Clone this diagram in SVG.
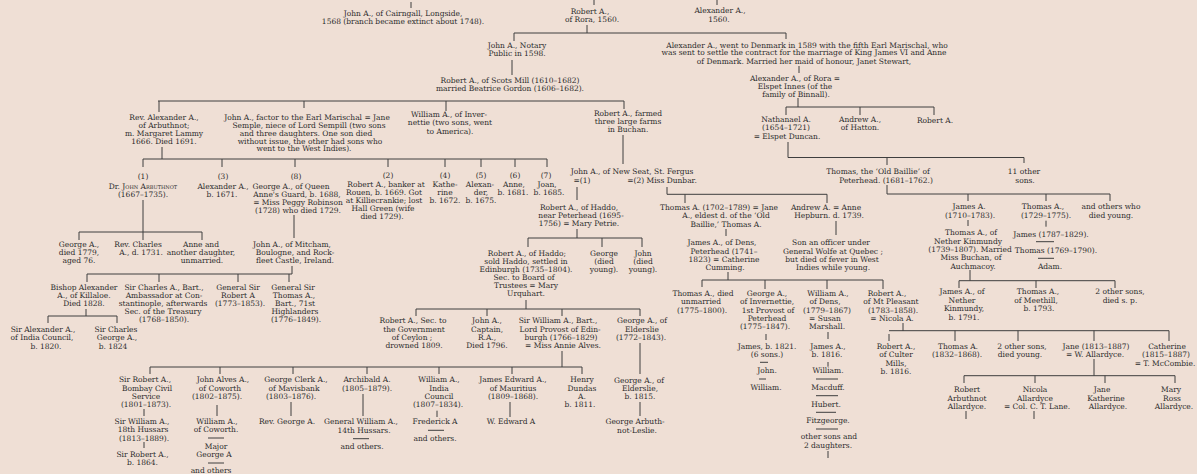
<svg xmlns="http://www.w3.org/2000/svg" width="1197" height="474" viewBox="0 0 1197 474">
<style>
text{font-family:"DejaVu Serif","Liberation Serif",serif;font-size:7.5px;fill:#2c2c2c;text-anchor:middle}
.sc{font-variant:small-caps}
#connectors path{stroke:#3e3e3e;stroke-width:1;fill:none}
</style>
<rect width="1197" height="474" fill="#efdfd5"/>
<g id="connectors">
<path d="M411 2V8M594 0V5M717 0V5"/>
<path d="M587 25V33M514 33H786M514 33V41M786 33V39"/>
<path d="M512 60V75"/>
<path d="M158 101H624M159 101V112M304 101V108M446 101V111M624 101V109"/>
<path d="M799 66V73M798 98V107M786 107H934M786 107V115M860 107V115M934 107V115"/>
<path d="M162 147V159M143 159H547M143 159V167M222 159V167M295 159V167M388 159V167M445 159V167M481 159V167M515 159V167M547 159V167"/>
<path d="M143 200V232M79 232H202M79 232V240M143 232V240M202 232V240"/>
<path d="M294 215V238M292 266V274M87 274H292M87 274V282M159 274V282M238 274V282M289 274V282"/>
<path d="M86 309V316M48 316H117M48 316V323M117 316V323"/>
<path d="M623 135V164M577 187V200M577 229V238M528 238H642M528 238V247M602 238V247M642 238V247"/>
<path d="M526 300V309M416 309H640M416 309V316M487 309V316M562 309V316M640 309V316"/>
<path d="M640 343V374M640 402V416"/>
<path d="M562 351V367M150 367H582M150 367V374M220 367V374M293 367V374M367 367V374M439 367V374M512 367V374M582 367V374"/>
<path d="M144 409V416M144 442V448M217 405V416M208 438H224M208 463H224M291 402V416M363 394V416M353 438.7H369M437 410.7V417M428 430.3H444M510 402V417"/>
<path d="M788 142V157.5M788 157.5H1024M887 157.5V165M1024 157.5V163"/>
<path d="M887 185V194M887 194H1110M968 194V201M1046 194V201M1110 194V201"/>
<path d="M968 220V226M1046 220.7V226.7M1036 241.7H1054M1038 258.3H1054"/>
<path d="M970 270V280.7M959 280.7H1115M959 280.7V288M1036 280.7V288M1115 280.7V288"/>
<path d="M667 187V194.3M667 194.3H827M685 194.3V203M827 194.3V203"/>
<path d="M726 229V236M836 221V235"/>
<path d="M728 272V280M702 280H883M702 280V287M765 280V289M827 280V289M883 280V289"/>
<path d="M766 334V340M760 362.3H768M759 379H766"/>
<path d="M828 332V339M828 362V366.7M816 379H838M816 395.7H838M816 412.3H836M816 429H838M828 451V458"/>
<path d="M889 334V341M903 323V331M889 330.7H1169M955 330.7V341M1018 330.7V341M1094 330.7V341M1169 330.7V341"/>
<path d="M1094 359V375.7M964 375.7H1175M964 375.7V383M1035 375.7V383M1105 375.7V383M1175 375.7V383M966 411V419M1034 411V419"/>
</g>
<g id="n_cairngall"><text><tspan x="403" y="16">John A., of Cairngall, Longside,</tspan><tspan x="403" y="24">1568 (branch became extinct about 1748).</tspan></text></g>
<g id="n_rora"><text><tspan x="590" y="13.6">Robert A.,</tspan><tspan x="592" y="21.8">of Rora, 1560.</tspan></text></g>
<g id="n_alex1560"><text><tspan x="720" y="13.3">Alexander A.,</tspan><tspan x="719" y="22">1560.</tspan></text></g>
<g id="n_notary"><text><tspan x="517" y="48.3">John A., Notary</tspan><tspan x="517" y="56">Public in 1598.</tspan></text></g>
<g id="n_scotsmill"><text><tspan x="510" y="82.6">Robert A., of Scots Mill (1610–1682)</tspan><tspan x="510" y="91">married Beatrice Gordon (1606–1682).</tspan></text></g>
<g id="n_denmark"><text><tspan x="807" y="47.6">Alexander A., went to Denmark in 1589 with the fifth Earl Marischal, who</tspan><tspan x="804" y="55.3">was sent to settle the contract for the marriage of King James VI and Anne</tspan><tspan x="804" y="63.6">of Denmark.   Married her maid of honour, Janet Stewart,</tspan></text></g>
<g id="n_alexrora"><text><tspan x="795" y="81">Alexander A., of Rora =</tspan><tspan x="795" y="88.6">Elspet Innes (of the</tspan><tspan x="796" y="96.6">family of Binnall).</tspan></text></g>
<g id="n_nathanael"><text><tspan x="786" y="122">Nathanael A.</tspan><tspan x="786" y="130.3">(1654–1721)</tspan><tspan x="787" y="138.6">= Elspet Duncan.</tspan></text></g>
<g id="n_andrew_hatton"><text><tspan x="860" y="122">Andrew A.,</tspan><tspan x="860" y="130.3">of Hatton.</tspan></text></g>
<g id="n_robert_a"><text x="935" y="122.6">Robert A.</text></g>
<g id="n_rev_alex"><text><tspan x="164" y="120">Rev. Alexander A.,</tspan><tspan x="164" y="128.3">of Arbuthnot;</tspan><tspan x="164" y="136">m. Margaret Lammy</tspan><tspan x="164" y="144">1666.  Died 1691.</tspan></text></g>
<g id="n_factor"><text><tspan x="307" y="120">John A., factor to the Earl Marischal = Jane</tspan><tspan x="309" y="128.3">Semple, niece of Lord Sempill (two sons</tspan><tspan x="306" y="136">and three daughters.  One son died</tspan><tspan x="310" y="144">without issue, the other had sons who</tspan><tspan x="304" y="151.3">went to the West Indies).</tspan></text></g>
<g id="n_william_inver"><text><tspan x="449" y="117">William A., of Inver-</tspan><tspan x="450" y="125.3">nettie (two sons, went</tspan><tspan x="450" y="133.6">to America).</tspan></text></g>
<g id="n_robert_farmed"><text><tspan x="628" y="115.6">Robert A., farmed</tspan><tspan x="628" y="123.6">three large farms</tspan><tspan x="628" y="131.6">in Buchan.</tspan></text></g>
<g id="n_c1"><text><tspan x="143" y="178.5">(1)</tspan><tspan x="143" y="188.6">Dr. <tspan class="sc">John Arbuthnot</tspan></tspan><tspan x="143" y="196.6">(1667–1735).</tspan></text></g>
<g id="n_c3"><text><tspan x="223" y="178.5">(3)</tspan><tspan x="223" y="188.6">Alexander A.,</tspan><tspan x="222" y="196.6">b. 1671.</tspan></text></g>
<g id="n_c8"><text><tspan x="296" y="178.5">(8)</tspan><tspan x="291" y="188.6">George A., of Queen</tspan><tspan x="297" y="196.6">Anne's Guard, b. 1688,</tspan><tspan x="298" y="204.6">= Miss Peggy Robinson</tspan><tspan x="298" y="212.6">(1728) who died 1729.</tspan></text></g>
<g id="n_c2"><text><tspan x="388" y="177.5">(2)</tspan><tspan x="386" y="187">Robert A., banker at</tspan><tspan x="384" y="195">Rouen, b. 1669.  Got</tspan><tspan x="384" y="203">at Killiecrankie; lost</tspan><tspan x="383" y="211">Hall Green (wife</tspan><tspan x="382" y="219">died 1729).</tspan></text></g>
<g id="n_c4"><text><tspan x="445" y="177.5">(4)</tspan><tspan x="445" y="187">Kathe-</tspan><tspan x="445" y="195">rine</tspan><tspan x="445" y="203">b. 1672.</tspan></text></g>
<g id="n_c5"><text><tspan x="481" y="177.5">(5)</tspan><tspan x="480" y="187">Alexan-</tspan><tspan x="481" y="195">der,</tspan><tspan x="481" y="203">b. 1675.</tspan></text></g>
<g id="n_c6"><text><tspan x="515" y="177.5">(6)</tspan><tspan x="514" y="187">Anne,</tspan><tspan x="513" y="195">b. 1681.</tspan></text></g>
<g id="n_c7"><text><tspan x="546" y="177.5">(7)</tspan><tspan x="547" y="187">Joan,</tspan><tspan x="549" y="195">b. 1685.</tspan></text></g>
<g id="n_georgeA"><text><tspan x="79" y="247">George A.,</tspan><tspan x="79" y="255">died 1779,</tspan><tspan x="79" y="263">aged 76.</tspan></text></g>
<g id="n_revcharles"><text><tspan x="138" y="247">Rev. Charles</tspan><tspan x="141" y="255">A., d. 1731.</tspan></text></g>
<g id="n_anne"><text><tspan x="201" y="247">Anne and</tspan><tspan x="201" y="255">another daughter,</tspan><tspan x="202" y="263">unmarried.</tspan></text></g>
<g id="n_mitcham"><text><tspan x="292" y="247">John A., of Mitcham,</tspan><tspan x="295" y="255">Boulogne, and Rock-</tspan><tspan x="295" y="263">fleet Castle, Ireland.</tspan></text></g>
<g id="n_bishop"><text><tspan x="84" y="290">Bishop Alexander</tspan><tspan x="84" y="298">A., of Killaloe.</tspan><tspan x="84" y="306">Died 1828.</tspan></text></g>
<g id="n_sircharles"><text><tspan x="164" y="290">Sir Charles A., Bart.,</tspan><tspan x="164" y="298">Ambassador at Con-</tspan><tspan x="163" y="306">stantinople, afterwards</tspan><tspan x="163" y="314">Sec. of the Treasury</tspan><tspan x="164" y="322">(1768–1850).</tspan></text></g>
<g id="n_gensirrobert"><text><tspan x="238" y="290">General Sir</tspan><tspan x="238" y="298">Robert A</tspan><tspan x="240" y="306">(1773–1853).</tspan></text></g>
<g id="n_gensirthomas"><text><tspan x="293" y="290">General Sir</tspan><tspan x="294" y="298">Thomas A.,</tspan><tspan x="295" y="306">Bart., 71st</tspan><tspan x="295" y="314">Highlanders</tspan><tspan x="296" y="322">(1776–1849).</tspan></text></g>
<g id="n_siralexander"><text><tspan x="43" y="332.3">Sir Alexander A.,</tspan><tspan x="42" y="340.3">of India Council,</tspan><tspan x="46" y="349">b. 1820.</tspan></text></g>
<g id="n_sircharlesgeorge"><text><tspan x="116" y="332.3">Sir Charles</tspan><tspan x="117" y="340.3">George A.,</tspan><tspan x="113" y="349">b. 1824</tspan></text></g>
<g id="n_newseat"><text><tspan x="632" y="174">John A., of New Seat, St. Fergus</tspan><tspan x="582" y="182.6">=(1)</tspan><tspan x="662" y="182.6">=(2) Miss Dunbar.</tspan></text></g>
<g id="n_haddo1"><text><tspan x="579" y="210.3">Robert A., of Haddo,</tspan><tspan x="581" y="218.3">near Peterhead (1695-</tspan><tspan x="579" y="226.3">1756) = Mary Petrie.</tspan></text></g>
<g id="n_haddo2"><text><tspan x="527" y="256">Robert A., of Haddo;</tspan><tspan x="526" y="264.3">sold Haddo, settled in</tspan><tspan x="526" y="272">Edinburgh (1735–1804).</tspan><tspan x="524" y="280">Sec. to Board of</tspan><tspan x="526" y="288.3">Trustees = Mary</tspan><tspan x="526" y="296.3">Urquhart.</tspan></text></g>
<g id="n_george_died"><text><tspan x="604" y="256">George</tspan><tspan x="604" y="264.3">(died</tspan><tspan x="604" y="272">young).</tspan></text></g>
<g id="n_john_died"><text><tspan x="643" y="256">John</tspan><tspan x="643" y="264.3">(died</tspan><tspan x="643" y="272">young).</tspan></text></g>
<g id="n_robert_ceylon"><text><tspan x="413" y="323.3">Robert A., Sec. to</tspan><tspan x="414" y="331.6">the Government</tspan><tspan x="412" y="340">of Ceylon ;</tspan><tspan x="414" y="348.3">drowned 1809.</tspan></text></g>
<g id="n_john_captain"><text><tspan x="487" y="323.3">John A.,</tspan><tspan x="487" y="331.6">Captain,</tspan><tspan x="487" y="340">R.A.,</tspan><tspan x="487" y="348.3">Died 1796.</tspan></text></g>
<g id="n_sirwilliam"><text><tspan x="558" y="323.3">Sir William A., Bart.,</tspan><tspan x="560" y="331.6">Lord Provost of Edin-</tspan><tspan x="561" y="340">burgh (1766–1829)</tspan><tspan x="563" y="348.3">= Miss Annie Alves.</tspan></text></g>
<g id="n_george_elderslie"><text><tspan x="642" y="323.3">George A., of</tspan><tspan x="642" y="331.6">Elderslie</tspan><tspan x="641" y="340">(1772–1843).</tspan></text></g>
<g id="n_george_elderslie2"><text><tspan x="639" y="382.6">George A., of</tspan><tspan x="640" y="391">Elderslie,</tspan><tspan x="640" y="398.6">b. 1815.</tspan></text></g>
<g id="n_arbuthnot_leslie"><text><tspan x="635" y="424">George Arbuth-</tspan><tspan x="637" y="432.6">not-Leslie.</tspan></text></g>
<g id="n_sirrobert_bombay"><text><tspan x="145" y="382.3">Sir Robert A.,</tspan><tspan x="147" y="390.6">Bombay Civil</tspan><tspan x="146" y="399">Service</tspan><tspan x="146" y="407.3">(1801–1873).</tspan></text></g>
<g id="n_sirwilliam18"><text><tspan x="142" y="424">Sir William A.,</tspan><tspan x="143" y="432.3">18th Hussars</tspan><tspan x="144" y="440.6">(1813–1889).</tspan></text></g>
<g id="n_sirrobert1864"><text><tspan x="142.5" y="456.6">Sir Robert A.,</tspan><tspan x="142.5" y="465.3">b. 1864.</tspan></text></g>
<g id="n_johnalves"><text><tspan x="223" y="382.3">John Alves A.,</tspan><tspan x="220" y="390.6">of Coworth</tspan><tspan x="217" y="399">(1802–1875).</tspan></text></g>
<g id="n_williamcoworth"><text><tspan x="217" y="424">William A.,</tspan><tspan x="216" y="432.3">of Coworth.</tspan></text></g>
<g id="n_majorgeorge"><text><tspan x="216" y="449.3">Major</tspan><tspan x="214" y="457.3">George A</tspan></text></g>
<g id="n_coworth_others"><text x="211" y="472.6">and others</text></g>
<g id="n_georgeclerk"><text><tspan x="296" y="382.3">George Clerk A.,</tspan><tspan x="294" y="390.6">of Mavisbank</tspan><tspan x="291" y="399">(1803–1876).</tspan></text></g>
<g id="n_revgeorge"><text x="287" y="424">Rev. George A.</text></g>
<g id="n_archibald"><text><tspan x="367" y="382.3">Archibald A.</tspan><tspan x="367" y="390.6">(1805–1879).</tspan></text></g>
<g id="n_genwilliam"><text><tspan x="361" y="424">General William A.,</tspan><tspan x="364" y="432.6">14th Hussars.</tspan></text></g>
<g id="n_archibald_others"><text x="362" y="449">and others.</text></g>
<g id="n_williamindia"><text><tspan x="439" y="382.3">William A.,</tspan><tspan x="439" y="390.6">India</tspan><tspan x="439" y="399">Council</tspan><tspan x="438" y="407.3">(1807–1834).</tspan></text></g>
<g id="n_frederick"><text x="435" y="424">Frederick A</text></g>
<g id="n_william_others"><text x="435" y="441">and others.</text></g>
<g id="n_jamesedward"><text><tspan x="513" y="382.3">James Edward A.,</tspan><tspan x="513" y="390.6">of Mauritius</tspan><tspan x="513" y="399">(1809–1868).</tspan></text></g>
<g id="n_wedward"><text x="511" y="424">W. Edward A</text></g>
<g id="n_henrydundas"><text><tspan x="582" y="382.3">Henry</tspan><tspan x="582" y="390.6">Dundas</tspan><tspan x="582" y="399">A.</tspan><tspan x="580" y="407.3">b. 1811.</tspan></text></g>
<g id="n_oldbaillie"><text><tspan x="878" y="174.3">Thomas, the ‘Old Baillie’ of</tspan><tspan x="886" y="182.6">Peterhead.  (1681–1762.)</tspan></text></g>
<g id="n_11sons"><text><tspan x="1024" y="173.6">11 other</tspan><tspan x="1025" y="182.6">sons.</tspan></text></g>
<g id="n_jamesA1710"><text><tspan x="969" y="209.3">James A.</tspan><tspan x="970" y="217.6">(1710–1783).</tspan></text></g>
<g id="n_thomasnether"><text><tspan x="971" y="235.3">Thomas A., of</tspan><tspan x="968" y="243.6">Nether Kinmundy</tspan><tspan x="970" y="252">(1739–1807). Married</tspan><tspan x="971" y="260.3">Miss Buchan, of</tspan><tspan x="973" y="268.6">Auchmacoy.</tspan></text></g>
<g id="n_thomas1729"><text><tspan x="1043" y="209.3">Thomas A.,</tspan><tspan x="1046" y="217.6">(1729–1775).</tspan></text></g>
<g id="n_james1787"><text x="1051" y="237">James (1787–1829).</text></g>
<g id="n_thomas1769"><text x="1056" y="252.6">Thomas (1769–1790).</text></g>
<g id="n_adam"><text x="1050" y="268.6">Adam.</text></g>
<g id="n_othersyoung"><text><tspan x="1111" y="209.3">and others who</tspan><tspan x="1111" y="217.6">died young.</tspan></text></g>
<g id="n_jamesnether"><text><tspan x="962" y="294.3">James A., of</tspan><tspan x="962" y="302.6">Nether</tspan><tspan x="964" y="311">Kinmundy,</tspan><tspan x="964" y="320">b. 1791.</tspan></text></g>
<g id="n_thomasmeethill"><text><tspan x="1038" y="294.3">Thomas A.,</tspan><tspan x="1036" y="302.6">of Meethill,</tspan><tspan x="1039" y="311">b. 1793.</tspan></text></g>
<g id="n_2othersons"><text><tspan x="1120" y="294.3">2 other sons,</tspan><tspan x="1120" y="302.6">died s. p.</tspan></text></g>
<g id="n_thomas1702"><text><tspan x="719" y="210">Thomas A. (1702–1789) = Jane</tspan><tspan x="726" y="218.3">A., eldest d. of the ‘Old</tspan><tspan x="726" y="226.6">Baillie,’ Thomas A.</tspan></text></g>
<g id="n_jamesdens"><text><tspan x="722" y="245.3">James A., of Dens,</tspan><tspan x="724" y="253.6">Peterhead (1741–</tspan><tspan x="724" y="262">1823) = Catherine</tspan><tspan x="725" y="270">Cumming.</tspan></text></g>
<g id="n_andrew_hepburn"><text><tspan x="826" y="210">Andrew A. = Anne</tspan><tspan x="829" y="218.3">Hepburn.  d. 1739.</tspan></text></g>
<g id="n_son_officer"><text><tspan x="831" y="245.3">Son an officer under</tspan><tspan x="833" y="253.6">General Wolfe at Quebec ;</tspan><tspan x="832" y="262">but died of fever in West</tspan><tspan x="833" y="270">Indies while young.</tspan></text></g>
<g id="n_thomas1775"><text><tspan x="703" y="296">Thomas A., died</tspan><tspan x="701" y="304.3">unmarried</tspan><tspan x="702" y="312.6">(1775–1800).</tspan></text></g>
<g id="n_georgeinvernettie"><text><tspan x="767" y="296">George A.,</tspan><tspan x="767" y="304.3">of Invernettie,</tspan><tspan x="768" y="312.6">1st Provost of</tspan><tspan x="767" y="321">Peterhead</tspan><tspan x="765" y="329.3">(1775–1847).</tspan></text></g>
<g id="n_james1821"><text><tspan x="767" y="349">James, b. 1821.</tspan><tspan x="767" y="357">(6 sons.)</tspan></text></g>
<g id="n_john_inv"><text x="767" y="373.3">John.</text></g>
<g id="n_william_inv"><text x="766" y="390">William.</text></g>
<g id="n_williamdens"><text><tspan x="828" y="296">William A.,</tspan><tspan x="825" y="304.3">of Dens,</tspan><tspan x="827" y="312.6">(1779–1867)</tspan><tspan x="825" y="321">= Susan</tspan><tspan x="827" y="329.3">Marshall.</tspan></text></g>
<g id="n_james1816"><text><tspan x="828" y="349">James A.,</tspan><tspan x="827" y="357.3">b. 1816.</tspan></text></g>
<g id="n_william_dens2"><text x="828" y="373.3">William.</text></g>
<g id="n_macduff"><text x="828" y="390">Macduff.</text></g>
<g id="n_hubert"><text x="826" y="406.6">Hubert.</text></g>
<g id="n_fitzgeorge"><text x="828" y="423.3">Fitzgeorge.</text></g>
<g id="n_othersons"><text><tspan x="829" y="439.3">other sons and</tspan><tspan x="828" y="447.6">2 daughters.</tspan></text></g>
<g id="n_robertmtpleasant"><text><tspan x="887" y="296">Robert A.,</tspan><tspan x="891" y="304.3">of Mt Pleasant</tspan><tspan x="893" y="312.6">(1783–1858).</tspan><tspan x="892" y="321">= Nicola A.</tspan></text></g>
<g id="n_robertculter"><text><tspan x="896" y="349">Robert A.,</tspan><tspan x="896" y="357.3">of Culter</tspan><tspan x="896" y="365.6">Mills,</tspan><tspan x="896" y="374">b. 1816.</tspan></text></g>
<g id="n_thomas1832"><text><tspan x="958" y="349">Thomas A.</tspan><tspan x="957" y="357.3">(1832–1868).</tspan></text></g>
<g id="n_2sonsyoung"><text><tspan x="1022" y="349">2 other sons,</tspan><tspan x="1020" y="357.3">died young.</tspan></text></g>
<g id="n_jane1813"><text><tspan x="1096" y="349">Jane (1813–1887)</tspan><tspan x="1095" y="357.3">= W. Allardyce.</tspan></text></g>
<g id="n_catherine"><text><tspan x="1167" y="349">Catherine</tspan><tspan x="1166" y="357.3">(1815–1887)</tspan><tspan x="1165" y="365.6">= T. McCombie.</tspan></text></g>
<g id="n_robertallardyce"><text><tspan x="967" y="392.3">Robert</tspan><tspan x="967" y="400.6">Arbuthnot</tspan><tspan x="967" y="409">Allardyce.</tspan></text></g>
<g id="n_nicola"><text><tspan x="1035" y="392.3">Nicola</tspan><tspan x="1035" y="400.6">Allardyce</tspan><tspan x="1037" y="409">= Col. C. T. Lane.</tspan></text></g>
<g id="n_janekatherine"><text><tspan x="1102" y="392.3">Jane</tspan><tspan x="1106" y="400.6">Katherine</tspan><tspan x="1108" y="409">Allardyce.</tspan></text></g>
<g id="n_maryross"><text><tspan x="1171" y="392.3">Mary</tspan><tspan x="1172" y="400.6">Ross</tspan><tspan x="1174" y="409">Allardyce.</tspan></text></g>
</svg>
